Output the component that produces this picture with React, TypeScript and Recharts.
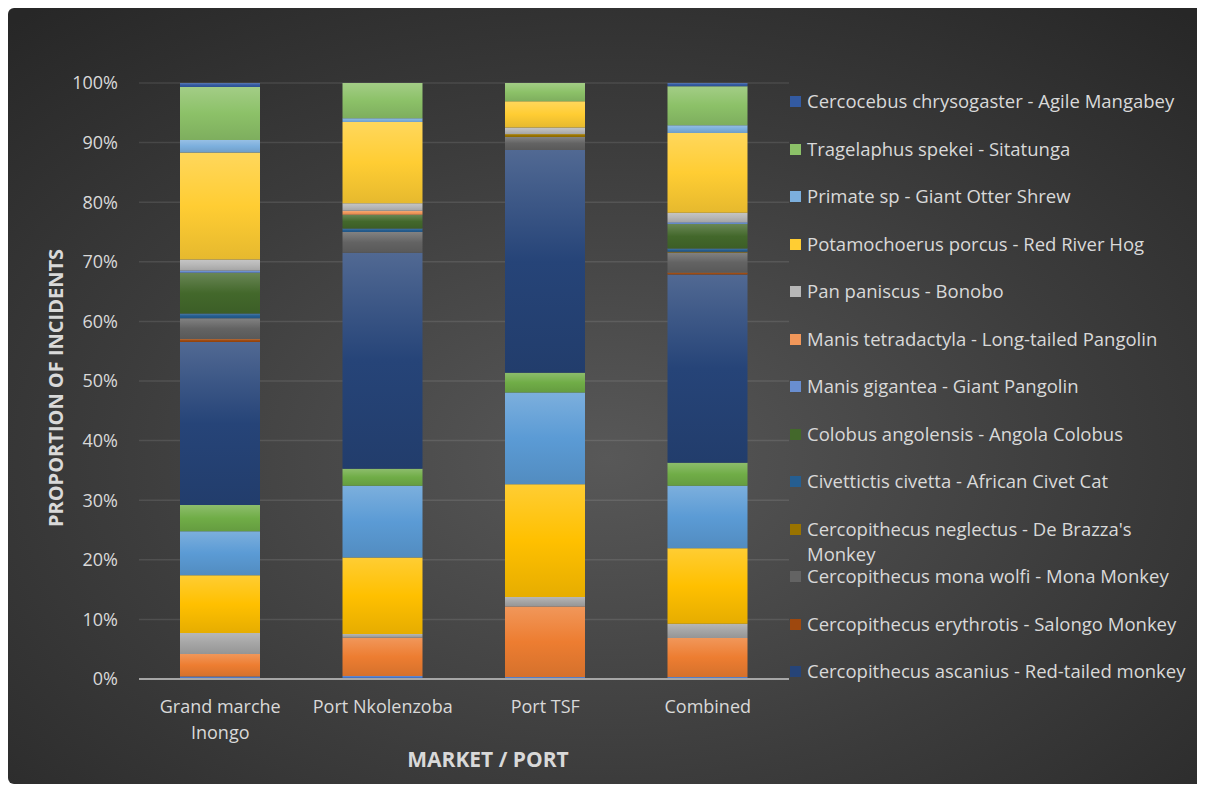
import React from 'react';
import { BarChart, Bar, XAxis, YAxis, CartesianGrid, Legend, Label, Text } from 'recharts';

const categories = ['Grand marche Inongo', 'Port Nkolenzoba', 'Port TSF', 'Combined'];

// percent of incidents per market, bottom of the stack first
const series1 = [0.4, 0.5, 0.35, 0.35];
const series2 = [3.8, 6.4, 11.8, 6.55];
const series3 = [3.5, 0.66, 1.6, 2.4];
const series4 = [9.7, 12.8, 18.9, 12.65];
const series5 = [7.35, 12.05, 15.4, 10.5];
const series6 = [4.4, 2.85, 3.3, 3.9];
const redTailedMonkey = [27.3, 36.2, 37.35, 31.6];
const salongoMonkey = [0.5, 0, 0, 0.33];
const monaMonkey = [3.5, 3.5, 2.2, 3.4];
const deBrazzasMonkey = [0, 0, 0.5, 0.12];
const africanCivetCat = [0.8, 0.6, 0, 0.53];
const angolaColobus = [6.8, 2.3, 0, 4.1];
const giantPangolin = [0.4, 0, 0, 0.33];
const longTailedPangolin = [0, 0.66, 0, 0];
const bonobo = [1.85, 1.26, 1.1, 1.6];
const redRiverHog = [17.9, 13.6, 4.4, 13.4];
const giantOtterShrew = [2.1, 0.66, 0, 1.3];
const sitatunga = [8.9, 5.9, 3.05, 6.55];
const agileMangabey = [0.66, 0, 0, 0.53];

const yTicks = [0, 0.1, 0.2, 0.3, 0.4, 0.5, 0.6, 0.7, 0.8, 0.9, 1];

const seriesList = [
  { key: 's1', name: 'Series 1', values: series1, color: '#4472C4', legend: false },
  { key: 's2', name: 'Series 2', values: series2, color: '#ED7D31', legend: false },
  { key: 's3', name: 'Series 3', values: series3, color: '#A5A5A5', legend: false },
  { key: 's4', name: 'Series 4', values: series4, color: '#FFC000', legend: false },
  { key: 's5', name: 'Series 5', values: series5, color: '#5B9BD5', legend: false },
  { key: 's6', name: 'Series 6', values: series6, color: '#70AD47', legend: false },
  { key: 's7', name: 'Cercopithecus ascanius - Red-tailed monkey', values: redTailedMonkey, color: '#264478', legend: true },
  { key: 's8', name: 'Cercopithecus erythrotis - Salongo Monkey', values: salongoMonkey, color: '#9E480E', legend: true },
  { key: 's9', name: 'Cercopithecus mona wolfi - Mona Monkey', values: monaMonkey, color: '#636363', legend: true },
  { key: 's10', name: "Cercopithecus neglectus - De Brazza's Monkey", values: deBrazzasMonkey, color: '#997300', legend: true },
  { key: 's11', name: 'Civettictis civetta - African Civet Cat', values: africanCivetCat, color: '#255E91', legend: true },
  { key: 's12', name: 'Colobus angolensis - Angola Colobus', values: angolaColobus, color: '#43682B', legend: true },
  { key: 's13', name: 'Manis gigantea - Giant Pangolin', values: giantPangolin, color: '#698ED0', legend: true },
  { key: 's14', name: 'Manis tetradactyla - Long-tailed Pangolin', values: longTailedPangolin, color: '#F1975A', legend: true },
  { key: 's15', name: 'Pan paniscus - Bonobo', values: bonobo, color: '#B7B7B7', legend: true },
  { key: 's16', name: 'Potamochoerus porcus - Red River Hog', values: redRiverHog, color: '#FFCD33', legend: true },
  { key: 's17', name: 'Primate sp - Giant Otter Shrew', values: giantOtterShrew, color: '#7CAFDD', legend: true },
  { key: 's18', name: 'Tragelaphus spekei - Sitatunga', values: sitatunga, color: '#8CC168', legend: true },
  { key: 's19', name: 'Cercocebus chrysogaster - Agile Mangabey', values: agileMangabey, color: '#335AA1', legend: true },
];

const data = categories.map((name, i) => {
  const row: any = { name };
  seriesList.forEach((s) => { row[s.key] = s.values[i]; });
  return row;
});

const FONT = '"Open Sans", "Noto Sans", sans-serif';
const TEXT = '#d9d9d9';

const mix = (hex: string, target: number, amt: number) => {
  const n = parseInt(hex.slice(1), 16);
  const ch = [(n >> 16) & 255, (n >> 8) & 255, n & 255].map((c) => Math.round(c + (target - c) * amt));
  return `rgb(${ch.join(',')})`;
};

const CategoryTick = (props: any) => {
  const { x, y, payload } = props;
  return (
    <Text x={x} y={y + 21} width={150} textAnchor="middle" verticalAnchor="start" lineHeight={26}
      fill={TEXT} fontSize={18} fontFamily={FONT} style={{ fontSize: 18, fontFamily: FONT }}>
      {payload.value}
    </Text>
  );
};

const renderLegend = (props: any) => {
  const keys = seriesList.map((s) => s.key);
  const items = (props.payload || [])
    .filter((p: any) => p.type !== 'none')
    .slice()
    .sort((a: any, b: any) => keys.indexOf(b.dataKey) - keys.indexOf(a.dataKey));
  return (
    <div style={{ fontFamily: FONT, fontSize: 18.5, color: TEXT }}>
      {items.map((item: any) => {
        const s = seriesList.find((x) => x.key === item.dataKey);
        return (
          <div key={item.dataKey} style={{ height: 47.5, boxSizing: 'border-box', paddingTop: 11, display: 'flex', alignItems: 'flex-start' }}>
            <span style={{ width: 11, height: 11, background: s ? s.color : item.color, marginTop: 8, marginRight: 6, flex: 'none' }} />
            <span style={{ lineHeight: '25px', maxWidth: 392, whiteSpace: 'normal' }}>{item.value}</span>
          </div>
        );
      })}
    </div>
  );
};

export default function App() {
  return (
    <div style={{
      width: 1196, height: 776, borderRadius: 6, position: 'relative',
      background: 'radial-gradient(ellipse 75% 75% at 50% 58%, #585858 0%, #3c3c3c 55%, #272727 100%)',
    }}>
      <BarChart width={1196} height={776} data={data} stackOffset="expand"
        margin={{ top: 75, right: 415, bottom: 0, left: 0 }}>
        <defs>
          {seriesList.map((s) => (
            <linearGradient key={s.key} id={`grad-${s.key}`} x1="0" y1="0" x2="0" y2="1">
              <stop offset="0%" stopColor={mix(s.color, 255, 0.2)} />
              <stop offset="50%" stopColor={s.color} />
              <stop offset="100%" stopColor={mix(s.color, 0, 0.1)} />
            </linearGradient>
          ))}
        </defs>
        <CartesianGrid vertical={false} stroke="rgba(255,255,255,0.1)" strokeWidth={1.5} />
        <XAxis dataKey="name" height={105} interval={0} tickLine={false} tickSize={0} tickMargin={0}
          axisLine={{ stroke: '#a6a6a6', strokeWidth: 2 }} tick={<CategoryTick />}>
          <Label content={(p: any) => (
            <text x={p.viewBox.x + p.viewBox.width / 2 + 24} y={p.viewBox.y + 88} textAnchor="middle"
              fill={TEXT} fontSize={21} fontWeight="bold" fontFamily={FONT}>MARKET / PORT</text>
          )} />
        </XAxis>
        <YAxis width={131} domain={[0, 1]} ticks={yTicks} axisLine={false} tickLine={false} tickSize={0} tickMargin={21}
          tickFormatter={(v: number) => `${Math.round(v * 100)}%`}
          tick={{ fill: TEXT, fontSize: 18, fontFamily: FONT }}>
          <Label content={(p: any) => {
            const cx = p.viewBox.x + 47;
            const cy = p.viewBox.y + p.viewBox.height / 2 + 7;
            return (
              <text x={cx} y={cy} transform={`rotate(-90 ${cx} ${cy})`} textAnchor="middle" dominantBaseline="central"
                fill={TEXT} fontSize={20} fontWeight="bold" fontFamily={FONT}>PROPORTION OF INCIDENTS</text>
            );
          }} />
        </YAxis>
        <Legend layout="vertical" align="center" verticalAlign="middle" content={renderLegend}
          wrapperStyle={{ left: 782, top: 69, width: 414, height: 680 }} />
        {seriesList.map((s) => (
          <Bar key={s.key} dataKey={s.key} name={s.name} stackId="a" barSize={80}
            fill={`url(#grad-${s.key})`} legendType={s.legend ? 'square' : 'none'} isAnimationActive={false} />
        ))}
      </BarChart>
    </div>
  );
}
